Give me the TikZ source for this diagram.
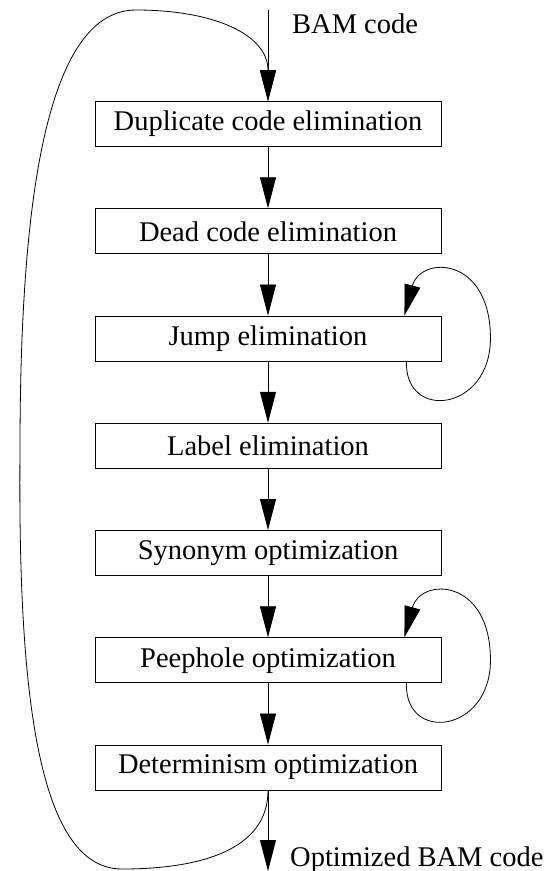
\documentclass[tikz,border=0pt]{standalone}
\usepackage{fontspec}
\setmainfont{Liberation Serif}
\usetikzlibrary{arrows.meta,calc}
\begin{document}
\begin{tikzpicture}[x=1pt,y=-1pt,
  stage/.style={draw,line width=0.9pt,minimum width=346pt,minimum height=45pt,
    inner sep=0pt,font=\fontsize{28.5}{30}\selectfont},
  flow/.style={line width=0.8pt,-{Triangle[length=31pt,width=16pt]}},
  lbl/.style={font=\fontsize{28.5}{30}\selectfont,inner sep=0pt,anchor=base west}]
\useasboundingbox (0,0) rectangle (549,871);

% optimisation passes
\node[stage] (dup)  at (268,124)    {Duplicate code elimination};
\node[stage] (dead) at (268,231.25) {Dead code elimination};
\node[stage] (jump) at (268,338.5)  {Jump elimination};
\node[stage] (lab)  at (268,445.75) {Label elimination};
\node[stage] (syn)  at (268,553)    {Synonym optimization};
\node[stage] (peep) at (268,660.25) {Peephole optimization};
\node[stage] (det)  at (268,767.5)  {Determinism optimization};

% input and output
\coordinate (in)  at (268,10);
\coordinate (out) at (268,871);
\node[lbl] (inl)  at (292,33)  {BAM code};
\node[lbl] (outl) at (290,866) {Optimized BAM code};

% main chain
\draw[flow] (in) -- (dup);
\draw[flow] (dup) -- (dead);
\draw[flow] (dead) -- (jump);
\draw[flow] (jump) -- (lab);
\draw[flow] (lab) -- (syn);
\draw[flow] (syn) -- (peep);
\draw[flow] (peep) -- (det);
\draw[flow] (det) -- (out);

% outer feedback loop
\draw[flow] (det.south)
  .. controls (268,850) and (200,869) .. (122,869)
  .. controls (35,869) and (18,680) .. (20,450)
  .. controls (20,230) and (40,10) .. (136,10)
  .. controls (215,10) and (268,35) .. (dup.north);

% self loops
\foreach \n in {jump,peep}{
  \draw[flow] ($(\n.south east)+(-35,0)$)
    .. controls ($(\n.south east)+(-37,60)$) and ($(\n.south east)+(49,50)$) .. ($(\n.east)+(49,0)$)
    .. controls ($(\n.north east)+(49,-60)$) and ($(\n.north east)+(-21,-60)$) .. ($(\n.north east)+(-37,0)$);
}
\end{tikzpicture}
\end{document}
